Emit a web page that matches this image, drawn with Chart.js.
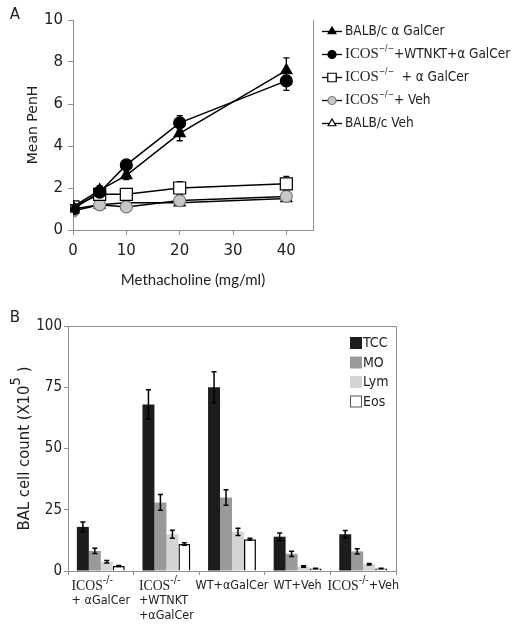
<!DOCTYPE html>
<html><head><meta charset="utf-8">
<script src="https://cdn.jsdelivr.net/npm/chart.js@4/dist/chart.umd.min.js"></script>
<style>
html,body{margin:0;padding:0;background:#fff;width:513px;height:628px;overflow:hidden}
#wa{position:absolute;left:0;top:0;width:513px;height:300px}
#wb{position:absolute;left:0;top:300px;width:513px;height:328px}
</style></head><body>
<div id="wa"><canvas id="ca" width="513" height="300"></canvas></div>
<div id="wb"><canvas id="cb" width="513" height="328"></canvas></div>
<script>
// ---------- Panel A data ----------
const doses = [0, 5, 10, 20, 40];
const seriesNamesA = ['BALB/c α GalCer', 'ICOS^{−/−}+WTNKT+α GalCer', 'ICOS^{−/−}  + α GalCer', 'ICOS^{−/−}+ Veh', 'BALB/c Veh'];
const balbGal = [1.1, 1.9, 2.6, 4.6, 7.6];
const balbGalErr = [0.1, 0.2, 0.2, 0.35, 0.6];
const icosWtnkt = [1.0, 1.8, 3.1, 5.1, 7.1];
const icosWtnktErr = [0.1, 0.15, 0.2, 0.35, 0.45];
const icosGal = [1.1, 1.7, 1.7, 2.0, 2.2];
const icosGalErr = [0.1, 0.15, 0.15, 0.3, 0.35];
const icosVeh = [0.9, 1.2, 1.1, 1.4, 1.6];
const icosVehErr = [0.05, 0.1, 0.1, 0.1, 0.1];
const balbVeh = [1.0, 1.2, 1.3, 1.3, 1.5];
const balbVehErr = [0.05, 0.1, 0.15, 0.15, 0.15];
const xTitleA = 'Methacholine (mg/ml)';
const yTitleA = 'Mean PenH';

// ---------- Panel B data ----------
const groupLabelsB = [['ICOS^{-/-}', '+ αGalCer'], ['ICOS^{-/-}', '+WTNKT', '+αGalCer'], ['WT+αGalCer'], ['WT+Veh'], ['ICOS^{-/-}+Veh']];
const cellTypes = ['TCC', 'MO', 'Lym', 'Eos'];
const tcc = [18, 68, 75, 14, 15];
const tccErr = [2, 6, 6.3, 1.5, 1.5];
const mo = [8.2, 28, 30, 7, 8];
const moErr = [1.1, 3.2, 3.2, 1.1, 1.1];
const lym = [3.8, 15, 16, 1.8, 2.8];
const lymErr = [0.5, 1.6, 1.5, 0.3, 0.3];
const eos = [2, 11, 13, 1, 1];
const eosErr = [0.2, 0.5, 0.4, 0.1, 0.1];
const yTitleB = 'BAL cell count (X10^{5} )';

// ---------- helpers ----------
const SANS = '"DejaVu Sans", sans-serif';
const COND = '"DejaVu Sans Condensed", "DejaVu Sans", sans-serif';
const AXIS = '#8f8f8f';
function segs(str){
  const out=[]; const re=/\^\{([^}]*)\}|(ICOS)/g; let last=0, m;
  while((m=re.exec(str))){
    if(m.index>last) out.push({t:str.slice(last,m.index)});
    if(m[1]!==undefined) out.push({t:m[1],sup:true}); else out.push({t:m[2],serif:true});
    last=re.lastIndex;
  }
  if(last<str.length) out.push({t:str.slice(last)});
  return out;
}
function fontFor(s,size,fam,supScale){
  if(s.sup) return (size*supScale)+'px '+fam;
  if(s.serif) return (size*1.1)+'px "Liberation Serif", serif';
  return size+'px '+fam;
}
function measureRich(ctx,str,size,fam,supScale){
  let w=0; for(const s of segs(str)){ctx.font=fontFor(s,size,fam,supScale); w+=ctx.measureText(s.t).width;} return w;
}
function drawRich(ctx,str,x,y,size,fam,supScale,supRaise){
  ctx.textAlign='left'; ctx.textBaseline='middle';
  for(const s of segs(str)){
    ctx.font=fontFor(s,size,fam,supScale);
    ctx.fillText(s.t,x,s.sup? y-size*supRaise : y);
    x+=ctx.measureText(s.t).width;
  }
  return x;
}

// ---------- Chart A ----------
const seriesA = [balbGal, icosWtnkt, icosGal, icosVeh, balbVeh];
const errA = [balbGalErr, icosWtnktErr, icosGalErr, icosVehErr, balbVehErr];
const styleA = [
  {ps:'triangle', bg:'#000', bc:'#000', r:6.5, lr:4.5},
  {ps:'circle', bg:'#000', bc:'#000', r:6, lr:4},
  {ps:'rect', bg:'#fff', bc:'#000', r:8.5, lr:6},
  {ps:'circle', bg:'#c8c8c8', bc:'#7a7a7a', r:6, lr:4},
  {ps:'triangle', bg:'#fff', bc:'#000', r:6.5, lr:4.5}
];

const errPluginA = {
  id:'errA',
  beforeDatasetsDraw(chart){
    const ctx=chart.ctx, ys=chart.scales.y;
    ctx.save(); ctx.strokeStyle='#000'; ctx.lineWidth=1.3;
    chart.data.datasets.forEach((ds,i)=>{
      const meta=chart.getDatasetMeta(i);
      ds.data.forEach((p,j)=>{
        const e=errA[i][j], x=meta.data[j].x;
        const y1=ys.getPixelForValue(p.y+e), y2=ys.getPixelForValue(p.y-e);
        ctx.beginPath(); ctx.moveTo(x,y1); ctx.lineTo(x,y2);
        ctx.moveTo(x-3,y1); ctx.lineTo(x+3,y1); ctx.moveTo(x-3,y2); ctx.lineTo(x+3,y2); ctx.stroke();
      });
    });
    ctx.restore();
  }
};
const decorA = {
  id:'decorA',
  afterDraw(chart){
    const ctx=chart.ctx, a=chart.chartArea;
    ctx.save();
    ctx.strokeStyle=AXIS; ctx.lineWidth=1;
    ctx.beginPath(); ctx.moveTo(a.right+0.5,a.top); ctx.lineTo(a.right+0.5,a.bottom); ctx.stroke();
    ctx.fillStyle='#222'; ctx.font='15px '+SANS; ctx.textAlign='center'; ctx.textBaseline='middle';
    ctx.fillText('A',15,15);
    // legend
    const lx=a.right+9, ly0=a.top+11.5, step=23;
    chart.data.datasets.forEach((ds,i)=>{
      const y=ly0+i*step, st=styleA[i];
      ctx.strokeStyle='#000'; ctx.lineWidth=1.3;
      ctx.beginPath(); ctx.moveTo(lx,y); ctx.lineTo(lx+20,y); ctx.stroke();
      ctx.fillStyle=st.bg; ctx.strokeStyle=st.bc; ctx.lineWidth=1.2;
      Chart.helpers.drawPoint(ctx,{pointStyle:st.ps,radius:st.lr,rotation:0,borderWidth:1.2},lx+10,y);
      ctx.fillStyle='#222';
      drawRich(ctx,ds.label,lx+23,y,13.5,COND,0.62,0.42);
    });
    ctx.restore();
  }
};

new Chart(document.getElementById('ca'),{
  type:'line',
  data:{datasets: seriesA.map((vals,i)=>({
    label: seriesNamesA[i],
    data: doses.map((d,j)=>({x:d,y:vals[j]})),
    borderColor:'#000', borderWidth:1.5, fill:false, tension:0,
    pointStyle:styleA[i].ps, pointRadius:styleA[i].r, pointBackgroundColor:styleA[i].bg,
    pointBorderColor:styleA[i].bc, pointBorderWidth:1.2
  }))},
  options:{
    responsive:false, animation:false, events:[],
    layout:{padding:{left:0,right:200,top:20,bottom:0}},
    plugins:{legend:{display:false},tooltip:{enabled:false}},
    scales:{
      x:{type:'linear',min:0,max:45,
        afterBuildTicks(s){ s.ticks = s.ticks.filter(t=>t.value%10===0); },
        afterFit(s){ s.height=70; },
        ticks:{stepSize:10,color:'#222',font:{family:SANS,size:15},padding:7,maxRotation:0},
        grid:{drawOnChartArea:false,tickLength:5,color:AXIS},
        border:{color:AXIS,width:1},
        title:{display:true,text:xTitleA,color:'#222',font:{family:'Lato, sans-serif',size:15},padding:{top:0,bottom:11}}
      },
      y:{min:0,max:10,
        afterFit(s){ s.width=73; },
        ticks:{stepSize:2,color:'#222',font:{family:SANS,size:15},padding:5},
        grid:{drawOnChartArea:false,tickLength:5,color:AXIS},
        border:{color:AXIS,width:1},
        title:{display:true,text:yTitleA,color:'#222',font:{family:SANS,size:14},padding:{top:25,bottom:0}}
      }
    }
  },
  plugins:[errPluginA,decorA]
});

// ---------- Chart B ----------
const seriesB = [tcc, mo, lym, eos];
const errB = [tccErr, moErr, lymErr, eosErr];
const colorsB = ['#1c1c1c', '#9a9a9a', '#d4d4d4', '#ffffff'];

const errPluginB = {
  id:'errB',
  afterDatasetsDraw(chart){
    const ctx=chart.ctx, ys=chart.scales.y;
    ctx.save(); ctx.strokeStyle='#000'; ctx.lineWidth=1.5;
    chart.data.datasets.forEach((ds,i)=>{
      const meta=chart.getDatasetMeta(i);
      ds.data.forEach((v,j)=>{
        const e=errB[i][j], x=meta.data[j].x;
        const y1=ys.getPixelForValue(v+e), y2=ys.getPixelForValue(v-e);
        ctx.beginPath(); ctx.moveTo(x,y1); ctx.lineTo(x,y2);
        ctx.moveTo(x-2.5,y1); ctx.lineTo(x+2.5,y1); ctx.moveTo(x-2.5,y2); ctx.lineTo(x+2.5,y2); ctx.stroke();
      });
    });
    ctx.restore();
  }
};
const decorB = {
  id:'decorB',
  afterDraw(chart){
    const ctx=chart.ctx, a=chart.chartArea, xs=chart.scales.x;
    ctx.save();
    ctx.strokeStyle=AXIS; ctx.lineWidth=1;
    ctx.beginPath(); ctx.moveTo(a.left,a.top+0.5); ctx.lineTo(a.right+0.5,a.top+0.5); ctx.lineTo(a.right+0.5,a.bottom); ctx.stroke();
    ctx.fillStyle='#222'; ctx.font='15px '+SANS; ctx.textAlign='center'; ctx.textBaseline='middle';
    ctx.fillText('B',15,18);
    // y title
    ctx.save();
    ctx.translate(25,(a.top+a.bottom)/2); ctx.rotate(-Math.PI/2);
    const w=measureRich(ctx,yTitleB,16.5,COND,0.9);
    drawRich(ctx,yTitleB,-w/2,0,16.5,COND,0.9,0.55);
    ctx.restore();
    // x labels
    chart.data.labels.forEach((lab,i)=>{
      const lines=groupLabelsB[i];
      const cx=xs.getPixelForValue(i);
      let mw=0; lines.forEach(l=>{mw=Math.max(mw,measureRich(ctx,l,12.5,COND,0.85));});
      lines.forEach((l,k)=>{ drawRich(ctx,l,cx-mw/2,a.bottom+15+k*15,12.5,COND,0.85,0.45); });
    });
    // legend
    const lx=a.right-46, ly0=a.top+17, step=19.5;
    chart.data.datasets.forEach((ds,i)=>{
      const y=ly0+i*step;
      ctx.fillStyle=colorsB[i]; ctx.fillRect(lx,y-6,12,12);
      if(i===3){ ctx.strokeStyle='#555'; ctx.lineWidth=1; ctx.strokeRect(lx+0.5,y-5.5,11,11); }
      ctx.fillStyle='#222'; ctx.font='14px '+COND; ctx.textAlign='left'; ctx.textBaseline='middle';
      ctx.fillText(ds.label,lx+13,y+0.5);
    });
    ctx.restore();
  }
};

new Chart(document.getElementById('cb'),{
  type:'bar',
  data:{
    labels: groupLabelsB.map(l=>l.join(' ')),
    datasets: seriesB.map((vals,i)=>({
      label: cellTypes[i], data: vals,
      backgroundColor: colorsB[i],
      borderColor: i===3 ? '#000' : colorsB[i],
      borderWidth: i===3 ? 1.5 : 0,
      categoryPercentage:0.73, barPercentage:1
    }))
  },
  options:{
    responsive:false, animation:false, events:[],
    layout:{padding:{left:0,right:117,top:26,bottom:0}},
    plugins:{legend:{display:false},tooltip:{enabled:false}},
    scales:{
      x:{
        afterFit(s){ s.height=57; },
        ticks:{display:false},
        grid:{drawOnChartArea:false,tickLength:4,color:AXIS,offset:true},
        border:{color:AXIS,width:1}
      },
      y:{min:0,max:100,
        afterFit(s){ s.width=68; },
        ticks:{stepSize:25,color:'#222',font:{family:COND,size:15},padding:2},
        grid:{drawOnChartArea:false,tickLength:4,color:AXIS},
        border:{color:AXIS,width:1}
      }
    }
  },
  plugins:[errPluginB,decorB]
});
</script>
</body></html>
